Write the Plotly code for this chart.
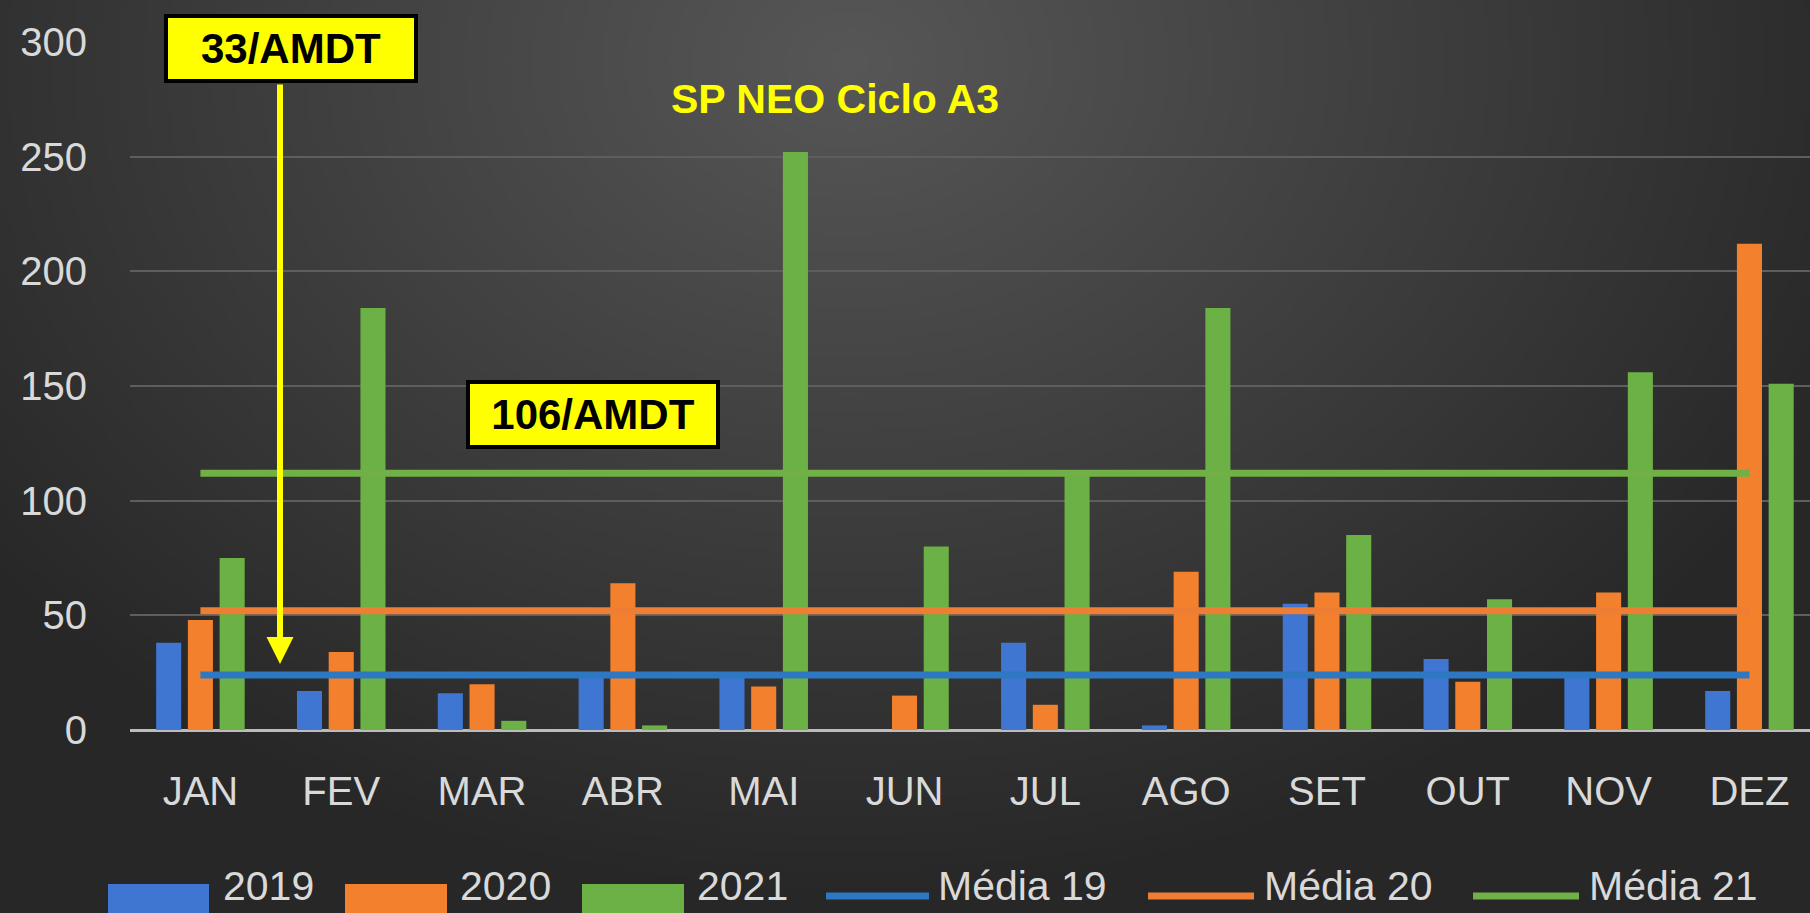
import base64, struct, zlib
import numpy as np
import plotly.graph_objects as go

# ---------------- data ----------------
months = ["JAN", "FEV", "MAR", "ABR", "MAI", "JUN", "JUL", "AGO", "SET", "OUT", "NOV", "DEZ"]
v2019 = [38, 17, 16, 24, 24, 0, 38, 2, 55, 31, 24, 17]
v2020 = [48, 34, 20, 64, 19, 15, 11, 69, 60, 21, 60, 212]
v2021 = [75, 184, 4, 2, 252, 80, 113, 184, 85, 57, 156, 151]
media_19 = 24
media_20 = 52
media_21 = 112
y_ticks = [0, 50, 100, 150, 200, 250, 300]
title_text = "SP NEO Ciclo A3"
box1_text = "33/AMDT"
box2_text = "106/AMDT"
legend_names = ["2019", "2020", "2021", "Média 19", "Média 20", "Média 21"]

# ---------------- geometry helpers ----------------
W, H = 1810, 913
L, R, T, B = 130, 1810, 42, 730


def px(x):
    return (x - L) / (R - L)


def py(y):
    return (B - y) / (B - T)


# ---------------- gradient background image ----------------
def gradient_png(w=362, h=183):
    xs = np.linspace(0, W, w)[None, :]
    ys = np.linspace(0, H, h)[:, None]
    d = np.sqrt(((xs - 850) / 1100.0) ** 2 + ((ys - 60) / 850.0) ** 2)
    d = np.clip(d, 0, 1)
    c = (0x57 - (0x57 - 0x27) * d).astype(np.uint8)
    raw = b"".join(b"\x00" + c[i].tobytes() for i in range(h))

    def chunk(tag, data):
        return struct.pack(">I", len(data)) + tag + data + struct.pack(">I", zlib.crc32(tag + data) & 0xFFFFFFFF)

    png = b"\x89PNG\r\n\x1a\n"
    png += chunk(b"IHDR", struct.pack(">IIBBBBB", w, h, 8, 0, 0, 0, 0))
    png += chunk(b"IDAT", zlib.compress(raw, 9))
    png += chunk(b"IEND", b"")
    return "data:image/png;base64," + base64.b64encode(png).decode()


C_BLUE = "#3F76D2"
C_ORANGE = "#F3802C"
C_GREEN = "#6CB145"
L_BLUE = "#2E78C2"
L_ORANGE = "#EE7E33"
L_GREEN = "#70B046"

FONT = "Liberation Sans, Arial, sans-serif"
TXT = "#d9d9d9"

fig = go.Figure()
for name, vals, col in [("2019", v2019, C_BLUE), ("2020", v2020, C_ORANGE), ("2021", v2021, C_GREEN)]:
    fig.add_trace(go.Bar(x=months, y=vals, name=name, marker=dict(color=col, line=dict(width=0))))

for name, val, col in [("Média 19", media_19, L_BLUE), ("Média 20", media_20, L_ORANGE), ("Média 21", media_21, L_GREEN)]:
    fig.add_trace(go.Scatter(x=months, y=[val] * len(months), name=name, mode="lines",
                             line=dict(color=col, width=7)))

fig.update_layout(
    width=W, height=H,
    margin=dict(l=L, r=W - R, t=T, b=H - B, pad=0),
    paper_bgcolor="#333333",
    plot_bgcolor="rgba(0,0,0,0)",
    showlegend=False,
    barmode="group",
    bargap=0.324,
    bargroupgap=0.21,
    hovermode=False,
    font=dict(family=FONT, color=TXT),
    images=[dict(source=gradient_png(), xref="paper", yref="paper",
                 x=px(0), y=py(0), sizex=W / (R - L), sizey=H / (B - T),
                 xanchor="left", yanchor="top", sizing="stretch", layer="below")],
)

fig.update_xaxes(
    type="category", range=[-0.5, 11.43], showgrid=False, showline=False, ticks="",
    tickfont=dict(size=40, color=TXT, family=FONT), ticklabelstandoff=34,
)
fig.update_yaxes(
    range=[0, 300], tickvals=y_ticks, showgrid=True, gridcolor="#5e5e5e", gridwidth=2,
    zeroline=True, zerolinecolor="#bcbcbc", zerolinewidth=3, showline=False, ticks="",
    tickfont=dict(size=40, color=TXT, family=FONT), ticklabelstandoff=42,
)

annotations = []
# title
annotations.append(dict(text="<b>%s</b>" % title_text, xref="paper", yref="paper",
                        x=px(835), y=py(99), xanchor="center", yanchor="middle", showarrow=False,
                        font=dict(family=FONT, size=41, color="#FFFF00")))
# yellow boxes
for txt, cx, cy in [(box1_text, 291, 48.5), (box2_text, 592.5, 414.5)]:
    annotations.append(dict(text="<b>%s</b>" % txt, xref="paper", yref="paper",
                            x=px(cx), y=py(cy), xanchor="center", yanchor="middle", showarrow=False,
                            width=246, height=61, bgcolor="#FFFF00", bordercolor="#000000",
                            borderwidth=4, borderpad=0, align="center", valign="middle",
                            font=dict(family=FONT, size=42, color="#000000")))
# yellow arrow
annotations.append(dict(text="", xref="paper", yref="paper", x=px(280), y=py(664),
                        ax=0, ay=83 - 664, showarrow=True, arrowhead=2, arrowsize=0.9,
                        arrowwidth=6, arrowcolor="#FFFF00", standoff=0))

shapes = []
LEG_Y = 886
# custom legend
leg_rects = [(108, 209, 221, C_BLUE), (345, 447, 458, C_ORANGE), (582, 684, 695, C_GREEN)]
for (x0, x1, tx, col), name in zip(leg_rects, legend_names[:3]):
    shapes.append(dict(type="rect", xref="paper", yref="paper", x0=px(x0), x1=px(x1),
                       y0=py(913), y1=py(884), fillcolor=col, line=dict(width=0)))
    annotations.append(dict(text=name, xref="paper", yref="paper", x=px(tx), y=py(LEG_Y),
                            xanchor="left", yanchor="middle", showarrow=False,
                            font=dict(family=FONT, size=41, color=TXT)))
leg_lines = [(826, 929, 936, L_BLUE), (1148, 1254, 1262, L_ORANGE), (1473, 1579, 1587, L_GREEN)]
for (x0, x1, tx, col), name in zip(leg_lines, legend_names[3:]):
    shapes.append(dict(type="line", xref="paper", yref="paper", x0=px(x0), x1=px(x1),
                       y0=py(896), y1=py(896), line=dict(color=col, width=7)))
    annotations.append(dict(text=name, xref="paper", yref="paper", x=px(tx), y=py(LEG_Y),
                            xanchor="left", yanchor="middle", showarrow=False,
                            font=dict(family=FONT, size=41, color=TXT)))

fig.update_layout(annotations=annotations, shapes=shapes)

fig.write_html("out.html", config=dict(displayModeBar=False, staticPlot=True),
               post_script="document.body.style.margin='0';document.body.style.overflow='hidden';")
